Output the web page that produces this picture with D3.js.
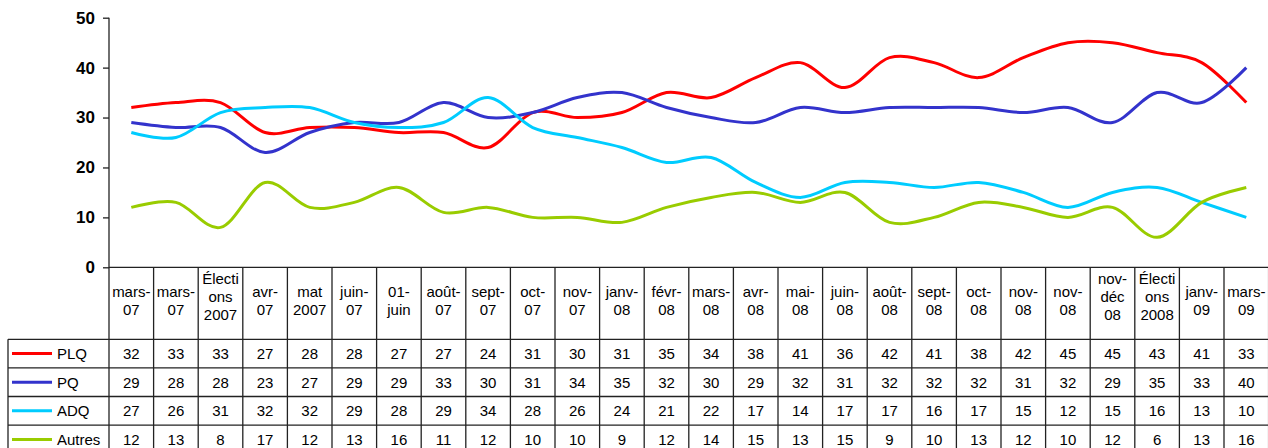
<!DOCTYPE html>
<html><head><meta charset="utf-8">
<script src="https://cdn.jsdelivr.net/npm/d3@7"></script>
<style>
html,body{margin:0;padding:0;background:#fff;}
svg{display:block;font-family:"Liberation Sans",Arial,sans-serif;}
</style></head>
<body><svg id="c" width="1268" height="448"></svg>
<script>
const categories = ["mars-\n07","mars-\n07","Électi\nons\n2007","avr-\n07","mat\n2007","juin-\n07","01-\njuin","août-\n07","sept-\n07","oct-\n07","nov-\n07","janv-\n08","févr-\n08","mars-\n08","avr-\n08","mai-\n08","juin-\n08","août-\n08","sept-\n08","oct-\n08","nov-\n08","nov-\n08","nov-\ndéc\n08","Électi\nons\n2008","janv-\n09","mars-\n09"];
const seriesNames = ["PLQ","PQ","ADQ","Autres"];
const PLQ    = [32,33,33,27,28,28,27,27,24,31,30,31,35,34,38,41,36,42,41,38,42,45,45,43,41,33];
const PQ     = [29,28,28,23,27,29,29,33,30,31,34,35,32,30,29,32,31,32,32,32,31,32,29,35,33,40];
const ADQ    = [27,26,31,32,32,29,28,29,34,28,26,24,21,22,17,14,17,17,16,17,15,12,15,16,13,10];
const Autres = [12,13,8,17,12,13,16,11,12,10,10,9,12,14,15,13,15,9,10,13,12,10,12,6,13,16];
const yTicks = [0,10,20,30,40,50];
const colors = ["#FF0000","#3333CC","#00CCFF","#99CC00"];
const seriesValues = [PLQ, PQ, ADQ, Autres];

const svg = d3.select("#c");
const mLeft = 109, mRight = 1268.6, mTop = 17.7, mBottom = 267.3;
const x = d3.scaleBand().domain(d3.range(categories.length)).range([mLeft, mRight]);
const y = d3.scaleLinear().domain([0, 50]).range([mBottom, mTop]);

// y axis
const yAxis = d3.axisLeft(y).tickValues(yTicks).tickSize(6).tickPadding(8);
const gy = svg.append("g").attr("transform", `translate(${mLeft},0)`).call(yAxis);
gy.select(".domain").remove();
gy.selectAll(".tick line").attr("stroke", "#222").attr("stroke-width", 1.3);
gy.selectAll("text").attr("font-size", 17).attr("font-weight", "bold").attr("fill", "#000")
  .attr("font-family", "'Liberation Sans',Arial,sans-serif");

// table geometry
const headerBottom = 339.3;
const rowH = 28.6;
const tableLeft = 8;
const stroke = "#222";
const g = svg.append("g");

g.append("line").attr("x1", mLeft).attr("x2", mLeft).attr("y1", mTop).attr("y2", 448)
  .attr("stroke", stroke).attr("stroke-width", 1.3);
g.append("line").attr("x1", mLeft).attr("x2", mRight).attr("y1", mBottom).attr("y2", mBottom)
  .attr("stroke", stroke).attr("stroke-width", 1.3);
categories.forEach((c, i) => {
  const xr = x(i) + x.bandwidth();
  g.append("line").attr("x1", xr).attr("x2", xr).attr("y1", mBottom).attr("y2", 448)
    .attr("stroke", stroke).attr("stroke-width", 1.3);
});
for (let r = 0; r <= seriesNames.length; r++) {
  const yy = headerBottom + r * rowH;
  g.append("line").attr("x1", tableLeft).attr("x2", mRight).attr("y1", yy).attr("y2", yy)
    .attr("stroke", stroke).attr("stroke-width", 1.3);
}
g.append("line").attr("x1", tableLeft).attr("x2", tableLeft).attr("y1", headerBottom).attr("y2", 448)
  .attr("stroke", stroke).attr("stroke-width", 1.3);

categories.forEach((c, i) => {
  const lines = c.split("\n");
  const lh = 18;
  const cy = lines.length === 3 ? 297 : 301;
  const t = g.append("text").attr("text-anchor", "middle").attr("font-size", 15).attr("fill", "#000");
  lines.forEach((ln, k) => {
    t.append("tspan").attr("x", x(i) + x.bandwidth() / 2)
      .attr("y", cy + (k - (lines.length - 1) / 2) * lh).attr("dy", "0.35em").text(ln);
  });
});

seriesNames.forEach((name, s) => {
  const cy = headerBottom + s * rowH + rowH / 2;
  g.append("line").attr("x1", 12).attr("x2", 52).attr("y1", cy).attr("y2", cy)
    .attr("stroke", colors[s]).attr("stroke-width", 3);
  g.append("text").attr("x", 57).attr("y", cy).attr("dy", "0.36em").attr("font-size", 15)
    .attr("fill", "#000").text(name);
  seriesValues[s].forEach((v, i) => {
    g.append("text").attr("x", x(i) + x.bandwidth() / 2).attr("y", cy).attr("dy", "0.36em")
      .attr("text-anchor", "middle").attr("font-size", 15).attr("fill", "#000").text(v);
  });
});

const line = d3.line().x((d, i) => x(i) + x.bandwidth() / 2).y(d => y(d)).curve(d3.curveCatmullRom.alpha(0));
seriesValues.forEach((vals, s) => {
  svg.append("path").datum(vals).attr("d", line).attr("fill", "none")
    .attr("stroke", colors[s]).attr("stroke-width", 3).attr("stroke-linejoin", "round");
});
</script></body></html>
